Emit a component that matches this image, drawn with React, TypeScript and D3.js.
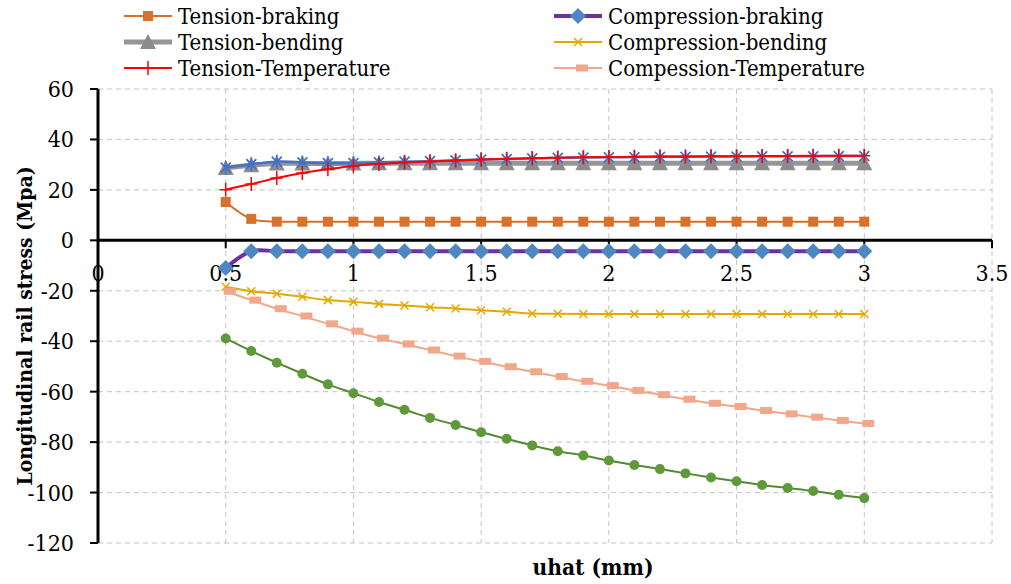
import * as d3 from "d3";

// x values (uhat, mm)
const uhat = [0.5, 0.6, 0.7, 0.8, 0.9, 1.0, 1.1, 1.2, 1.3, 1.4, 1.5, 1.6, 1.7, 1.8, 1.9, 2.0, 2.1, 2.2, 2.3, 2.4, 2.5, 2.6, 2.7, 2.8, 2.9, 3.0];

const tensionBraking = [15.2, 8.5, 7.4, 7.4, 7.4, 7.4, 7.4, 7.4, 7.4, 7.4, 7.4, 7.4, 7.4, 7.4, 7.4, 7.4, 7.4, 7.4, 7.4, 7.4, 7.4, 7.4, 7.4, 7.4, 7.4, 7.4];
const compressionBraking = [-11, -4.3, -4.3, -4.3, -4.3, -4.3, -4.3, -4.3, -4.3, -4.3, -4.3, -4.3, -4.3, -4.3, -4.3, -4.3, -4.3, -4.3, -4.3, -4.3, -4.3, -4.3, -4.3, -4.3, -4.3, -4.3];
const tensionBending = [28.7, 29.8, 30.5, 30.5, 30.5, 30.5, 30.6, 30.6, 30.6, 30.6, 30.6, 30.6, 30.6, 30.6, 30.6, 30.6, 30.6, 30.6, 30.6, 30.6, 30.6, 30.6, 30.6, 30.6, 30.6, 30.6];
const compressionBending = [-18.4, -20.2, -21.2, -22.4, -23.7, -24.4, -25.2, -25.8, -26.5, -27.0, -27.7, -28.3, -29.0, -29.1, -29.2, -29.2, -29.2, -29.2, -29.2, -29.2, -29.2, -29.2, -29.2, -29.2, -29.2, -29.2];
const tensionTemperature = [20.1, 22.3, 24.7, 26.7, 28.2, 29.5, 30.3, 30.9, 31.3, 31.7, 32.0, 32.3, 32.5, 32.7, 32.9, 33.0, 33.1, 33.2, 33.2, 33.3, 33.3, 33.4, 33.4, 33.5, 33.5, 33.5];
const compressionTemperature = [-20.2, -23.7, -27.1, -30.0, -33.1, -36.0, -38.8, -41.1, -43.5, -45.9, -48.0, -50.1, -52.1, -54.0, -55.9, -57.6, -59.5, -61.2, -63.0, -64.6, -65.9, -67.5, -68.8, -70.1, -71.4, -72.6];
const unlabeledBlue = [28.8, 30.2, 31.2, 30.9, 30.6, 30.6, 30.9, 31.2, 31.4, 31.7, 32.0, 32.2, 32.5, 32.7, 32.8, 32.9, 33.0, 33.1, 33.1, 33.2, 33.2, 33.3, 33.3, 33.3, 33.4, 33.4];
const unlabeledGreen = [-38.9, -43.9, -48.5, -52.9, -57.1, -60.6, -64.1, -67.2, -70.4, -73.2, -76.1, -78.7, -81.3, -83.6, -85.3, -87.3, -89.1, -90.7, -92.4, -94.0, -95.5, -97.0, -98.2, -99.4, -100.9, -102.2];

const xTicks = [0, 0.5, 1, 1.5, 2, 2.5, 3, 3.5];
const yTicks = [60, 40, 20, 0, -20, -40, -60, -80, -100, -120];

const legendNames = ["Tension-braking", "Compression-braking", "Tension-bending", "Compression-bending", "Tension-Temperature", "Compession-Temperature"];

const W = 1011;
const H = 584;
const M = { left: 98, right: 992, top: 89, bottom: 543 };
const FONT = "'DejaVu Serif Condensed', 'DejaVu Serif', serif";

type Marker = "square" | "diamond" | "triangle" | "x" | "plus" | "dash" | "circle" | "star";

interface Series {
  name?: string;
  values: number[];
  line: string;
  lineWidth: number;
  marker: Marker;
  fill: string;
}

const series: Series[] = [
  { name: legendNames[0], values: tensionBraking, line: "#d0712c", lineWidth: 2, marker: "square", fill: "#d6722e" },
  { name: legendNames[1], values: compressionBraking, line: "#7030a0", lineWidth: 4, marker: "diamond", fill: "#4f87c2" },
  { name: legendNames[2], values: tensionBending, line: "#969696", lineWidth: 5, marker: "triangle", fill: "#8c8c8c" },
  { name: legendNames[3], values: compressionBending, line: "#e4a800", lineWidth: 2, marker: "x", fill: "#e4a800" },
  { values: unlabeledBlue, line: "#4472c4", lineWidth: 2.5, marker: "star", fill: "#4472c4" },
  { name: legendNames[4], values: tensionTemperature, line: "#ff0000", lineWidth: 2, marker: "plus", fill: "#ff0000" },
  { name: legendNames[5], values: compressionTemperature, line: "#f2a68a", lineWidth: 2, marker: "dash", fill: "#f2a68a" },
  { values: unlabeledGreen, line: "#548a34", lineWidth: 2, marker: "circle", fill: "#5e9a3a" },
];

function MarkerShape({ type, x, y, color }: { type: Marker; x: number; y: number; color: string }) {
  switch (type) {
    case "square":
      return <rect x={x - 5} y={y - 5} width={10} height={10} fill={color} />;
    case "diamond":
      return <path d={`M${x},${y - 8}L${x + 8},${y}L${x},${y + 8}L${x - 8},${y}Z`} fill={color} />;
    case "triangle":
      return <path d={`M${x},${y - 8}L${x + 8},${y + 7}L${x - 8},${y + 7}Z`} fill={color} />;
    case "x":
      return <path d={`M${x - 4},${y - 4}L${x + 4},${y + 4}M${x - 4},${y + 4}L${x + 4},${y - 4}`} stroke={color} strokeWidth={1.5} />;
    case "plus":
      return <path d={`M${x - 6},${y}L${x + 6},${y}M${x},${y - 7}L${x},${y + 7}`} stroke={color} strokeWidth={1.5} />;
    case "dash":
      return <rect x={x - 2} y={y - 3.5} width={12} height={7} fill={color} />;
    case "circle":
      return <circle cx={x} cy={y} r={5} fill={color} />;
    case "star":
      return (
        <path
          d={`M${x - 5},${y - 5}L${x + 5},${y + 5}M${x - 5},${y + 5}L${x + 5},${y - 5}M${x},${y - 7}L${x},${y + 7}`}
          stroke={color}
          strokeWidth={1.8}
        />
      );
  }
}

export default function App() {
  const x = d3.scaleLinear().domain([0, 3.5]).range([M.left, M.right]);
  const y = d3.scaleLinear().domain([-120, 60]).range([M.bottom, M.top]);

  const lineGen = d3
    .line<number>()
    .x((_, i) => x(uhat[i]))
    .y((v) => y(v))
    .curve(d3.curveCatmullRom.alpha(0.5));

  const legendCols = [124, 554];
  const legendRows = [16, 42, 68];

  return (
    <svg width={W} height={H} style={{ position: "absolute", left: 0, top: 0, background: "#fff" }} fontFamily={FONT}>
      {/* grid */}
      {yTicks.map((t) => (
        <line key={"gy" + t} x1={M.left} x2={M.right} y1={y(t)} y2={y(t)} stroke="#c4c4c4" strokeDasharray="5,4" />
      ))}
      {xTicks.map((t) => (
        <line key={"gx" + t} x1={x(t)} x2={x(t)} y1={M.top} y2={M.bottom} stroke="#c4c4c4" strokeDasharray="5,4" />
      ))}

      {/* axes */}
      <line x1={M.left} x2={M.left} y1={M.top} y2={M.bottom} stroke="#000" strokeWidth={3} />
      {yTicks.map((t) => (
        <line key={"ty" + t} x1={M.left - 8} x2={M.left} y1={y(t)} y2={y(t)} stroke="#000" strokeWidth={2} />
      ))}
      <line x1={M.left} x2={M.right} y1={y(0)} y2={y(0)} stroke="#000" strokeWidth={3} />
      {xTicks.map((t) => (
        <line key={"tx" + t} x1={x(t)} x2={x(t)} y1={y(0)} y2={y(0) + 8} stroke="#000" strokeWidth={2} />
      ))}

      {/* tick labels */}
      {yTicks.map((t) => (
        <text key={"ly" + t} x={74} y={y(t)} dy="0.35em" textAnchor="end" fontSize={23} fill="#000">
          {t}
        </text>
      ))}
      {xTicks.map((t) => (
        <text key={"lx" + t} x={x(t)} y={281} textAnchor="middle" fontSize={23} fill="#000">
          {t}
        </text>
      ))}

      {/* series */}
      {series.map((s, si) => (
        <g key={"s" + si}>
          <path d={lineGen(s.values) ?? ""} fill="none" stroke={s.line} strokeWidth={s.lineWidth} />
          {s.values.map((v, i) => (
            <MarkerShape key={i} type={s.marker} x={x(uhat[i])} y={y(v)} color={s.fill} />
          ))}
        </g>
      ))}

      {/* axis titles */}
      <text
        transform={`translate(32,${(M.top + M.bottom) / 2 + 10}) rotate(-90)`}
        textAnchor="middle"
        fontSize={21}
        fontWeight="bold"
      >
        Longitudinal rail stress (Mpa)
      </text>
      <text x={593} y={575} textAnchor="middle" fontSize={22.5} fontWeight="bold">
        uhat (mm)
      </text>

      {/* legend */}
      {series
        .filter((s) => s.name)
        .map((s, i) => {
          const lx = legendCols[i % 2];
          const ly = legendRows[Math.floor(i / 2)];
          return (
            <g key={"lg" + i}>
              <line x1={lx} x2={lx + 48} y1={ly} y2={ly} stroke={s.line} strokeWidth={s.lineWidth} />
              <MarkerShape type={s.marker} x={lx + 24} y={ly} color={s.fill} />
              <text x={lx + 54} y={ly} dy="0.36em" fontSize={22} fill="#000">
                {s.name}
              </text>
            </g>
          );
        })}
    </svg>
  );
}
